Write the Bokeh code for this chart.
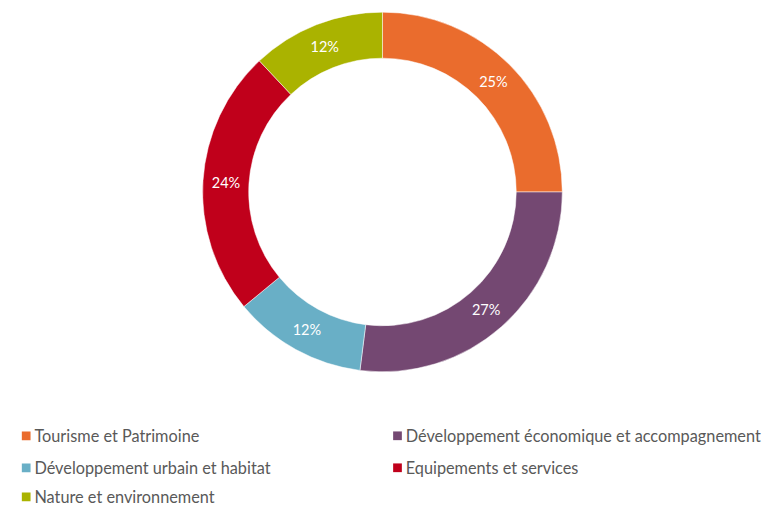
import numpy as np
from bokeh.plotting import figure
from bokeh.models import Range1d, ColumnDataSource
from bokeh.core.properties import value
from bokeh.embed import file_html
from bokeh.resources import INLINE

categories = ["Tourisme et Patrimoine", "Développement économique et accompagnement",
              "Développement urbain et habitat", "Equipements et services",
              "Nature et environnement"]
shares = [25, 27, 12, 24, 12]
labels = ["25%", "27%", "12%", "24%", "12%"]
colors = ["#EA6C2D", "#744872", "#69AFC6", "#C0001B", "#AAB300"]

W, H = 762, 508
REF_W, REF_H = 778, 524
s = H / REF_H  # uniform scale so the full reference layout fits
p = figure(width=W, height=H, output_backend="svg", toolbar_location=None,
           x_range=Range1d(0, W / s), y_range=Range1d(0, REF_H),
           min_border=0, outline_line_color=None, background_fill_color="white")
p.axis.visible = False
p.grid.visible = False

def fs(px):
    return f"{px * s:.1f}px"

cx, cy = 394, REF_H - 197.5
r_out, r_in = 185.5, 138

frac = np.array(shares, dtype=float) / sum(shares)
cum = np.concatenate([[0], np.cumsum(frac)])
start = np.pi / 2 - 2 * np.pi * cum[:-1]
end = np.pi / 2 - 2 * np.pi * cum[1:]
mid = (start + end) / 2
rm = (r_out + r_in) / 2

src = ColumnDataSource(dict(start=start, end=end, color=colors,
                            lx=cx + rm * np.cos(mid), ly=cy + rm * np.sin(mid),
                            label=labels))
p.annular_wedge(x=cx, y=cy, inner_radius=r_in, outer_radius=r_out,
                start_angle="start", end_angle="end", direction="clock",
                fill_color="color", line_color="white", line_width=0.5, source=src)
p.text(x="lx", y="ly", text="label", source=src, text_color="white",
       text_font=value("Lato"), text_font_size=fs(15),
       text_align="center", text_baseline="middle")

# legend
col_x = [26.5, 409.5]
row_y = [449, 482, 512]
lx, ly = [], []
for i in range(len(categories)):
    lx.append(col_x[i % 2])
    ly.append(REF_H - row_y[i // 2])
lsrc = ColumnDataSource(dict(x=lx, y=ly, tx=[v + 8.5 for v in lx], color=colors, name=categories))
p.scatter(x="x", y="y", marker="square", size=9 * s, fill_color="color", line_color=None, source=lsrc)
p.text(x="tx", y="y", text="name", source=lsrc, text_color="#595959",
       text_font=value("Lato"), text_font_size=fs(16.8), text_baseline="middle")

open("out.html", "w").write(file_html(p, INLINE))
